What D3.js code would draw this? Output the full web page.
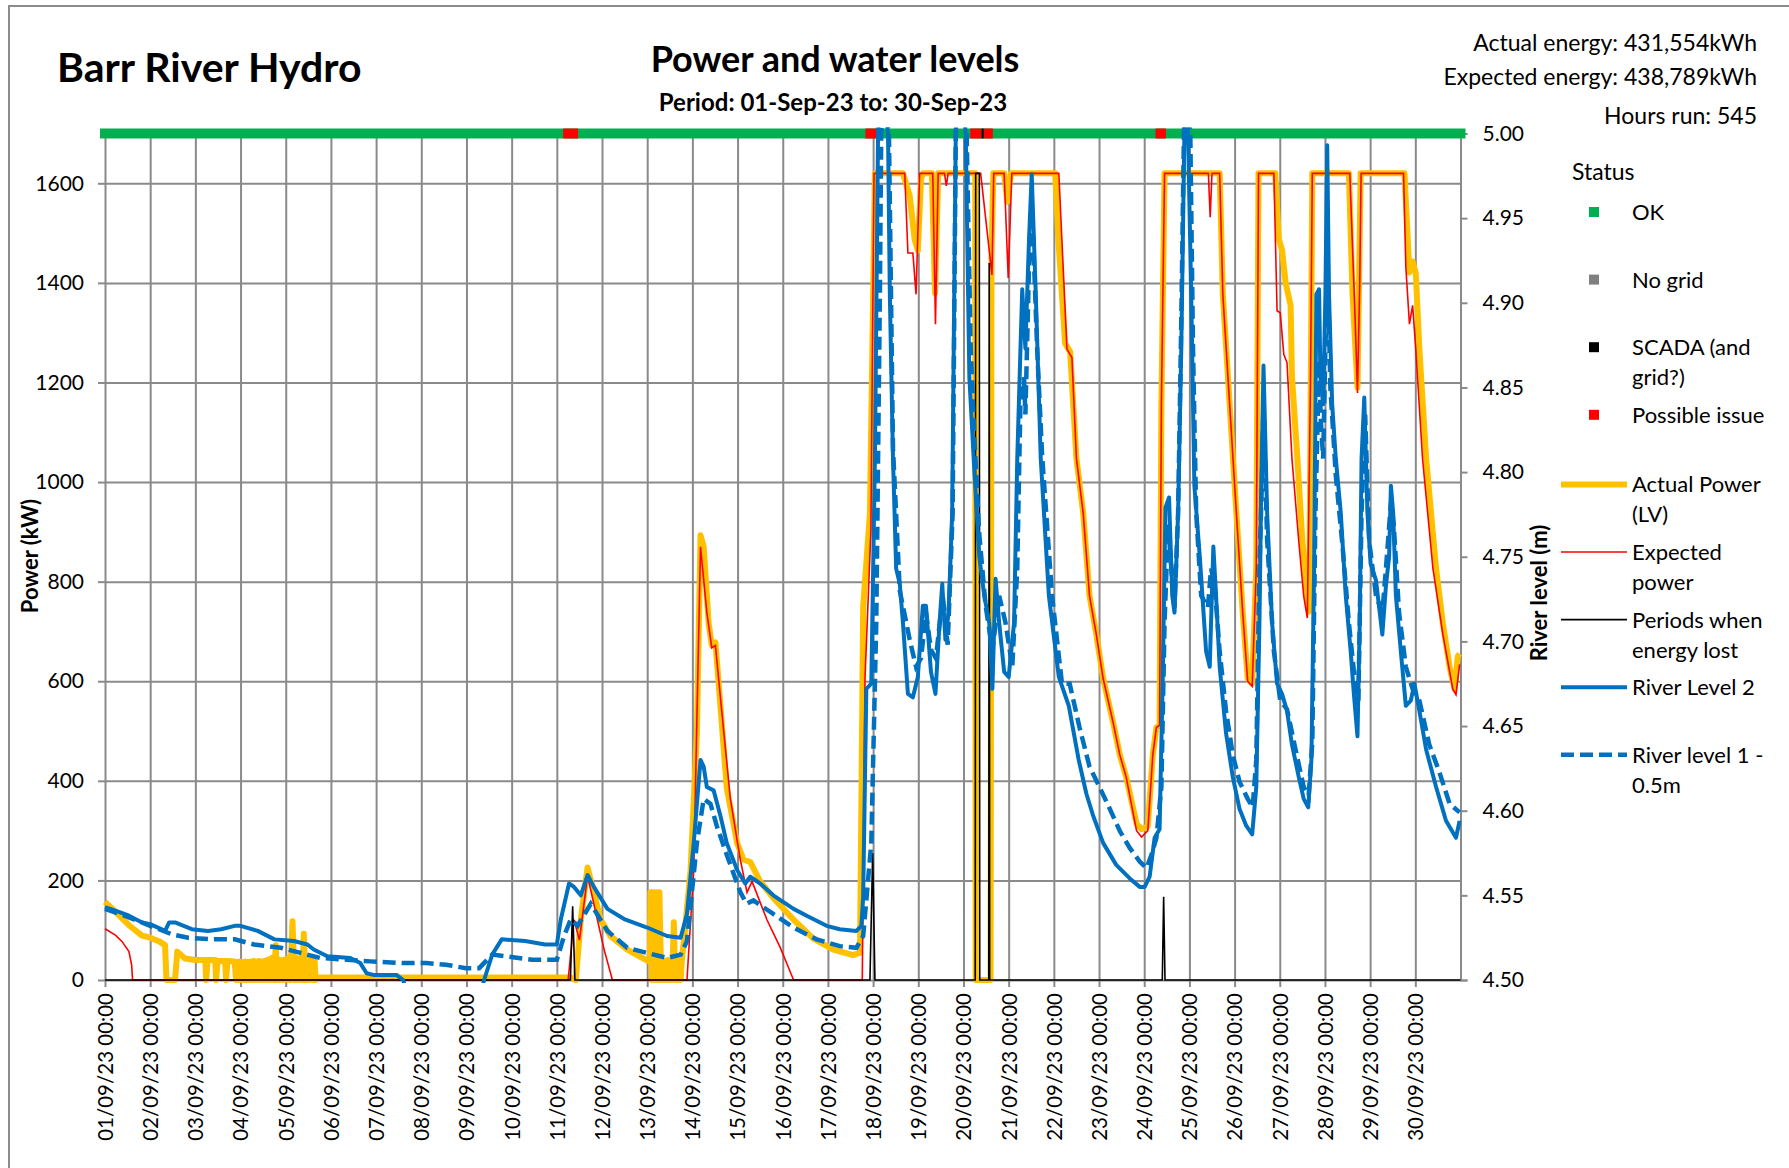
<!DOCTYPE html>
<html><head><meta charset="utf-8">
<script src="https://cdn.jsdelivr.net/npm/d3@7"></script>
<style>
body{margin:0;background:#fff}
text{font-family:Lato,"Open Sans",sans-serif;fill:#000}
</style>
</head><body>
<svg id="chart" width="1789" height="1168"></svg>
<script>
// ---------------- DATA (time = days since 01/09/23 00:00) ----------------
const xTickLabels = ["01/09/23 00:00","02/09/23 00:00","03/09/23 00:00","04/09/23 00:00","05/09/23 00:00","06/09/23 00:00","07/09/23 00:00","08/09/23 00:00","09/09/23 00:00","10/09/23 00:00","11/09/23 00:00","12/09/23 00:00","13/09/23 00:00","14/09/23 00:00","15/09/23 00:00","16/09/23 00:00","17/09/23 00:00","18/09/23 00:00","19/09/23 00:00","20/09/23 00:00","21/09/23 00:00","22/09/23 00:00","23/09/23 00:00","24/09/23 00:00","25/09/23 00:00","26/09/23 00:00","27/09/23 00:00","28/09/23 00:00","29/09/23 00:00","30/09/23 00:00"];
const powerTicks = [0,200,400,600,800,1000,1200,1400,1600];
const levelTicks = [4.50,4.55,4.60,4.65,4.70,4.75,4.80,4.85,4.90,4.95,5.00];

// Actual Power (LV), kW
const actualPower = [[0,157],[0.23,137],[0.53,110],[0.82,89],[1.0,85],[1.19,78],[1.33,70],[1.36,0],[1.55,0],[1.6,57],[1.77,43],[2.0,40],[2.22,40],[2.24,0],[2.27,40],[2.44,40],[2.46,0],[2.49,38],[2.66,38],[2.68,0],[2.71,38],[2.87,37],
[2.9,0],[2.93,36],[2.96,0],[2.99,37],[3.02,0],[3.05,36],[3.08,0],[3.11,37],[3.14,0],[3.17,36],[3.2,0],[3.23,37],[3.26,0],[3.29,38],[3.32,0],[3.35,37],[3.38,0],[3.41,38],[3.44,0],[3.47,37],[3.5,0],[3.53,38],[3.56,0],[3.59,40],[3.62,0],[3.65,42],[3.68,0],[3.71,45],[3.74,0],[3.78,70],[3.8,0],[3.83,42],[3.86,0],[3.89,40],[3.92,0],[3.95,40],[3.98,0],[4.01,42],[4.04,0],[4.07,45],[4.1,0],[4.15,118],[4.19,0],[4.22,45],[4.25,0],[4.28,40],[4.31,0],[4.34,45],[4.37,0],[4.4,93],[4.43,0],[4.46,45],[4.49,0],[4.52,40],[4.55,0],[4.58,42],[4.61,0],[4.64,38],[4.66,0],
[4.7,5],[10.3,5],[10.42,0],[10.53,121],[10.68,226],[10.82,176],[10.97,121],[11.19,88],[11.56,61],[12.0,39],[12.06,37],
[12.07,176],[12.1,0],[12.13,176],[12.17,0],[12.2,176],[12.24,0],[12.27,176],[12.31,0],[12.34,40],[12.37,0],[12.4,38],[12.43,0],[12.46,40],[12.49,0],[12.52,38],[12.55,0],[12.59,116],[12.62,0],[12.65,38],[12.68,0],[12.71,40],[12.74,0],[12.77,45],
[12.81,77],[12.96,220],[13.1,496],[13.18,893],[13.25,870],[13.36,716],[13.43,672],[13.51,678],[13.62,551],[13.76,386],[13.99,275],[14.13,242],[14.28,237],[14.5,198],[14.79,165],[15.24,121],[15.68,83],[16.12,61],[16.56,50],[16.71,55],[16.78,750],[16.93,937],[17.04,1620],[17.66,1620],[17.81,1575],[17.92,1487],[17.99,1465],[18.06,1608],[18.1,1620],[18.3,1620],[18.37,1380],[18.44,1620],[19.26,1620],[19.27,0],[19.6,0],[19.62,1450],[19.66,1620],[19.9,1620],[19.97,1563],[20.05,1620],[21.03,1620],[21.1,1487],[21.25,1278],[21.36,1262],[21.5,1047],[21.65,937],[21.79,771],[21.94,694],[22.09,606],[22.31,518],[22.46,452],[22.6,408],[22.83,314],[22.94,303],[23.08,309],[23.19,452],[23.27,507],[23.34,512],[23.38,1157],[23.45,1620],[24.67,1620],[24.74,1377],[24.89,1157],[25.04,937],[25.18,738],[25.29,606],[25.39,595],[25.48,827],[25.53,1620],[25.9,1620],[25.98,1488],[26.05,1466],[26.13,1400],[26.24,1355],[26.27,1212],[26.39,1047],[26.5,882],[26.61,760],[26.65,740],[26.72,1620],[27.53,1620],[27.61,1377],[27.72,1190],[27.79,1620],[28.76,1620],[28.87,1421],[28.94,1443],[29.01,1420],[29.09,1267],[29.24,1047],[29.46,826],[29.61,716],[29.76,628],[29.87,584],[29.94,650],[29.98,655]];

// Expected power, kW
const expectedPower = [[0,103],[0.23,90],[0.38,77],[0.53,57],[0.59,30],[0.61,0],[10.25,0],[10.38,121],[10.5,80],[10.68,209],[10.9,120],[11.05,60],[11.23,0],[12.88,0],[13.03,220],[13.18,870],[13.32,738],[13.43,667],[13.51,672],[13.65,540],[13.84,364],[14.06,242],[14.21,176],[14.32,198],[14.65,121],[14.94,66],[15.09,33],[15.24,0],[16.76,0],[16.82,606],[16.95,900],[17.02,1620],[17.7,1620],[17.77,1460],[17.88,1460],[17.95,1377],[18.03,1620],[18.32,1620],[18.38,1317],[18.44,1620],[18.58,1620],[18.62,1595],[18.66,1620],[19.38,1620],[19.63,1416],[19.67,1620],[19.9,1620],[19.99,1410],[20.07,1620],[21.11,1620],[21.29,1267],[21.4,1250],[21.5,1047],[21.65,937],[21.79,771],[21.94,694],[22.09,606],[22.31,518],[22.46,452],[22.6,408],[22.83,300],[22.94,287],[23.08,300],[23.19,452],[23.27,507],[23.34,512],[23.38,1157],[23.45,1620],[24.42,1620],[24.46,1532],[24.5,1620],[24.67,1620],[24.74,1377],[24.89,1157],[25.04,937],[25.18,738],[25.29,600],[25.39,590],[25.48,827],[25.53,1620],[25.87,1620],[25.94,1344],[26.01,1340],[26.09,1256],[26.16,1240],[26.27,1047],[26.42,882],[26.53,771],[26.61,727],[26.68,1200],[26.72,1620],[27.55,1620],[27.67,1322],[27.72,1179],[27.77,1400],[27.8,1620],[28.74,1620],[28.79,1432],[28.87,1317],[28.94,1355],[29.01,1267],[29.16,1047],[29.39,826],[29.61,694],[29.83,584],[29.9,573],[29.98,634]];

// Periods when energy lost, kW
const energyLost = [[0,0],[10.3,0],[10.35,148],[10.4,0],[16.93,0],[16.99,255],[17.04,0],[19.26,0],[19.27,1620],[19.35,1620],[19.36,0],[19.56,0],[19.57,1440],[19.58,0],[23.4,0],[23.43,167],[23.46,0],[30,0]];

// River Level 2, m
const riverLevel2 = [[0,4.543],[0.23,4.541],[0.53,4.538],[0.82,4.534],[1.0,4.533],[1.33,4.529],[1.42,4.534],[1.55,4.534],[1.92,4.530],[2.28,4.529],[2.57,4.530],[2.87,4.532],[3.0,4.532],[3.38,4.529],[3.75,4.524],[4.18,4.523],[4.48,4.521],[4.62,4.518],[4.92,4.514],[5.43,4.513],[5.65,4.510],[5.79,4.504],[5.94,4.503],[6.45,4.503],[6.6,4.500],[6.7,4.49],[8.3,4.49],[8.39,4.500],[8.57,4.515],[8.78,4.524],[9.3,4.523],[9.74,4.521],[10.0,4.521],[10.09,4.536],[10.27,4.557],[10.38,4.555],[10.53,4.550],[10.68,4.562],[10.82,4.555],[11.12,4.542],[11.49,4.536],[12.0,4.531],[12.44,4.526],[12.74,4.525],[12.88,4.539],[13.03,4.581],[13.18,4.630],[13.25,4.626],[13.32,4.614],[13.47,4.612],[13.62,4.597],[13.76,4.581],[13.99,4.565],[14.17,4.557],[14.28,4.561],[14.5,4.557],[14.79,4.550],[15.24,4.542],[15.53,4.538],[15.97,4.532],[16.26,4.530],[16.63,4.529],[16.74,4.532],[16.78,4.549],[16.85,4.672],[16.96,4.675],[17.04,4.808],[17.11,5.002],[17.2,5.03],[17.33,5.0],[17.37,4.905],[17.44,4.808],[17.51,4.743],[17.59,4.734],[17.66,4.711],[17.77,4.669],[17.88,4.667],[17.99,4.679],[18.1,4.721],[18.17,4.721],[18.28,4.682],[18.38,4.669],[18.47,4.711],[18.53,4.734],[18.6,4.701],[18.67,4.717],[18.75,4.776],[18.83,5.002],[18.95,5.03],[19.05,5.0],[19.13,4.856],[19.24,4.801],[19.35,4.750],[19.46,4.727],[19.57,4.711],[19.64,4.672],[19.71,4.737],[19.79,4.711],[19.9,4.682],[20.0,4.679],[20.12,4.711],[20.19,4.808],[20.3,4.908],[20.37,4.873],[20.45,4.937],[20.51,4.976],[20.6,4.905],[20.71,4.808],[20.89,4.727],[21.11,4.679],[21.33,4.662],[21.55,4.630],[21.72,4.610],[21.87,4.597],[22.09,4.581],[22.38,4.568],[22.68,4.560],[22.9,4.555],[23.01,4.555],[23.12,4.561],[23.23,4.584],[23.34,4.589],[23.41,4.678],[23.47,4.779],[23.55,4.785],[23.62,4.727],[23.67,4.717],[23.75,4.776],[23.82,4.873],[23.89,5.002],[23.93,5.02],[23.97,5.0],[24.04,4.905],[24.11,4.792],[24.23,4.750],[24.37,4.694],[24.45,4.685],[24.53,4.756],[24.59,4.727],[24.67,4.685],[24.81,4.646],[24.96,4.620],[25.11,4.601],[25.26,4.591],[25.39,4.586],[25.48,4.614],[25.55,4.711],[25.59,4.792],[25.64,4.863],[25.72,4.776],[25.83,4.711],[25.94,4.675],[26.05,4.669],[26.16,4.659],[26.27,4.639],[26.42,4.620],[26.53,4.607],[26.63,4.602],[26.7,4.630],[26.76,4.743],[26.81,4.905],[26.87,4.908],[26.9,4.856],[26.96,4.840],[27.01,4.905],[27.05,4.993],[27.09,4.905],[27.16,4.840],[27.24,4.808],[27.35,4.776],[27.46,4.727],[27.57,4.694],[27.64,4.669],[27.72,4.644],[27.77,4.711],[27.81,4.808],[27.87,4.844],[27.94,4.776],[28.01,4.746],[28.13,4.736],[28.27,4.704],[28.35,4.733],[28.42,4.750],[28.46,4.792],[28.51,4.776],[28.57,4.727],[28.68,4.694],[28.79,4.662],[28.9,4.665],[28.98,4.675],[29.09,4.659],[29.24,4.636],[29.46,4.614],[29.68,4.594],[29.9,4.584],[29.98,4.594]];

// River level 1 - 0.5m, m
const riverLevel1 = [[0,4.542],[0.53,4.537],[1.0,4.532],[1.48,4.527],[1.84,4.525],[2.36,4.524],[2.87,4.524],[3.3,4.521],[3.89,4.519],[4.33,4.516],[4.77,4.513],[5.35,4.512],[5.87,4.511],[6.6,4.510],[7.11,4.510],[7.55,4.509],[7.99,4.507],[8.28,4.507],[8.57,4.515],[8.87,4.514],[9.45,4.512],[10.0,4.512],[10.16,4.526],[10.31,4.536],[10.46,4.532],[10.75,4.545],[11.12,4.529],[11.56,4.519],[12.0,4.516],[12.44,4.513],[12.74,4.515],[12.88,4.523],[13.1,4.581],[13.25,4.607],[13.4,4.604],[13.54,4.591],[13.76,4.574],[14.06,4.552],[14.2,4.545],[14.35,4.547],[14.79,4.539],[15.24,4.531],[15.75,4.524],[16.26,4.520],[16.63,4.519],[16.78,4.526],[16.96,4.581],[17.07,4.711],[17.15,4.905],[17.18,5.002],[17.26,5.02],[17.35,5.0],[17.44,4.814],[17.59,4.730],[17.81,4.701],[17.95,4.685],[18.06,4.690],[18.17,4.717],[18.28,4.695],[18.39,4.690],[18.54,4.727],[18.65,4.698],[18.76,4.776],[18.83,5.002],[18.95,5.02],[19.07,5.0],[19.16,4.873],[19.24,4.821],[19.35,4.763],[19.49,4.721],[19.64,4.695],[19.79,4.727],[19.93,4.711],[20.08,4.685],[20.19,4.743],[20.26,4.840],[20.34,4.856],[20.37,4.834],[20.45,4.921],[20.52,4.954],[20.63,4.873],[20.74,4.810],[20.96,4.727],[21.18,4.675],[21.35,4.675],[21.57,4.649],[21.79,4.626],[22.01,4.614],[22.24,4.601],[22.46,4.588],[22.68,4.578],[22.9,4.570],[23.05,4.566],[23.16,4.574],[23.27,4.584],[23.38,4.614],[23.45,4.711],[23.53,4.769],[23.6,4.743],[23.67,4.720],[23.75,4.776],[23.82,4.889],[23.88,5.002],[23.95,5.02],[24.02,5.0],[24.08,4.873],[24.15,4.776],[24.26,4.727],[24.41,4.720],[24.48,4.743],[24.56,4.733],[24.67,4.694],[24.81,4.659],[24.96,4.633],[25.11,4.617],[25.29,4.607],[25.4,4.602],[25.48,4.630],[25.55,4.743],[25.6,4.790],[25.64,4.840],[25.72,4.760],[25.87,4.694],[26.01,4.665],[26.16,4.660],[26.35,4.636],[26.53,4.614],[26.64,4.609],[26.72,4.640],[26.79,4.776],[26.87,4.866],[26.91,4.830],[26.96,4.808],[27.01,4.873],[27.06,4.921],[27.12,4.850],[27.24,4.798],[27.39,4.756],[27.53,4.711],[27.68,4.672],[27.74,4.665],[27.81,4.776],[27.89,4.834],[27.98,4.759],[28.13,4.727],[28.27,4.717],[28.35,4.743],[28.46,4.782],[28.52,4.770],[28.64,4.717],[28.79,4.685],[28.94,4.672],[29.09,4.665],[29.31,4.639],[29.53,4.623],[29.76,4.604],[29.98,4.599]];

// Status periods [start, end, status]
const statusPeriods = [[0,10.14,"OK"],[10.14,10.47,"Possible issue"],[10.47,16.83,"OK"],[16.83,17.12,"Possible issue"],[17.12,19.15,"OK"],[19.15,19.4,"Possible issue"],[19.4,19.45,"SCADA (and grid?)"],[19.45,19.65,"Possible issue"],[19.65,23.25,"OK"],[23.25,23.48,"Possible issue"],[23.48,30,"OK"]];
const statusLevel = 1700;

const statusLegend = [["OK","#00B050"],["No grid","#808080"],["SCADA (and grid?)","#000000"],["Possible issue","#FF0000"]];
const statusLegendLines = [["OK"],["No grid"],["SCADA (and","grid?)"],["Possible issue"]];
const infoLines = ["Actual energy: 431,554kWh","Expected energy: 438,789kWh","Hours run: 545"];

// ---------------- CHART ----------------
const svg = d3.select("#chart");
const X0 = 105, X1 = 1460.5, Y0 = 980, Y1 = 133.5;
const x = d3.scaleLinear().domain([0,30]).range([X0,X1]);
const yP = d3.scaleLinear().domain([0,1700]).range([Y0,Y1]);
const yL = d3.scaleLinear().domain([4.5,5.0]).range([Y0,Y1]);
const GRID = "#8a8a8a";
const statusColor = {"OK":"#00B050","No grid":"#808080","SCADA (and grid?)":"#000000","Possible issue":"#FF0000"};

// outer border
svg.append("path").attr("d","M9,1168V6H1789").attr("fill","none").attr("stroke","#8c8c8c").attr("stroke-width",2);

// gridlines
const gH = svg.append("g").attr("transform",`translate(${X0},0)`)
  .call(d3.axisLeft(yP).tickValues(powerTicks).tickSize(-(X1-X0)).tickFormat(""));
gH.select(".domain").remove();
gH.selectAll("line").attr("stroke",GRID).attr("stroke-width",2);
const gV = svg.append("g").attr("transform",`translate(0,${Y0})`)
  .call(d3.axisBottom(x).tickValues(d3.range(0,31)).tickSize(-(Y0-Y1)).tickFormat(""));
gV.select(".domain").remove();
gV.selectAll("line").attr("stroke",GRID).attr("stroke-width",2);

// left axis ticks + labels
const gL = svg.append("g").attr("transform",`translate(${X0},0)`)
  .call(d3.axisLeft(yP).tickValues(powerTicks).tickSize(7).tickPadding(14).tickFormat(d3.format("d")));
gL.select(".domain").remove();
gL.selectAll("line").attr("stroke",GRID).attr("stroke-width",2);
gL.selectAll("text").attr("font-size",21).attr("font-family","Lato").attr("fill","#000");

// bottom axis ticks + labels
const gB = svg.append("g").attr("transform",`translate(0,${Y0})`)
  .call(d3.axisBottom(x).tickValues(d3.range(0,30)).tickSize(7).tickFormat(d=>xTickLabels[d]));
gB.select(".domain").remove();
gB.selectAll("line").attr("stroke",GRID).attr("stroke-width",2);
gB.selectAll("text").attr("font-size",20.5).attr("font-family","Lato").attr("fill","#000")
  .attr("text-anchor","end").attr("transform","rotate(-90)").attr("x",-13).attr("y",0).attr("dy","0.36em");

// right axis
const gR = svg.append("g").attr("transform",`translate(${X1},0)`)
  .call(d3.axisRight(yL).tickValues(levelTicks).tickSize(7).tickPadding(15).tickFormat(d3.format(".2f")));
gR.select(".domain").attr("stroke",GRID).attr("stroke-width",2);
gR.selectAll("line").attr("stroke",GRID).attr("stroke-width",2);
gR.selectAll("text").attr("font-size",21).attr("font-family","Lato").attr("fill","#000");

// clip
svg.append("clipPath").attr("id","plotclip").append("rect")
  .attr("x",X0-10).attr("y",Y1-6).attr("width",X1-X0+20).attr("height",Y0-Y1+9);
const plot = svg.append("g").attr("clip-path","url(#plotclip)");

// status bar
plot.append("line").attr("x1",x(0)).attr("x2",x(30)).attr("y1",yP(statusLevel)).attr("y2",yP(statusLevel))
  .attr("stroke",statusColor["OK"]).attr("stroke-width",10).attr("stroke-linecap","square");
plot.selectAll(".st").data(statusPeriods.filter(d=>d[2]!=="OK")).join("line")
  .attr("x1",d=>x(d[0])).attr("x2",d=>x(d[1])).attr("y1",yP(statusLevel)).attr("y2",yP(statusLevel))
  .attr("stroke",d=>statusColor[d[2]]).attr("stroke-width",10);

const lineP = d3.line().x(d=>x(d[0])).y(d=>yP(d[1]));
const lineL = d3.line().x(d=>x(d[0])).y(d=>yL(d[1]));

plot.append("path").datum(actualPower).attr("d",lineP).attr("fill","none").attr("stroke","#FFC000").attr("stroke-width",6).attr("stroke-linejoin","round");
plot.append("path").datum(expectedPower).attr("d",lineP).attr("fill","none").attr("stroke","#FF0000").attr("stroke-width",1.6);
plot.append("path").datum(energyLost).attr("d",lineP).attr("fill","none").attr("stroke","#000").attr("stroke-width",1.6);
plot.append("path").datum(riverLevel2).attr("d",lineL).attr("fill","none").attr("stroke","#0070C0").attr("stroke-width",4).attr("stroke-linejoin","round");
plot.append("path").datum(riverLevel1).attr("d",lineL).attr("fill","none").attr("stroke","#0070C0").attr("stroke-width",4.5).attr("stroke-dasharray","13,6");

// titles
svg.append("text").attr("x",57).attr("y",82).attr("font-size",41).attr("font-weight","bold").text("Barr River Hydro");
svg.append("text").attr("x",835).attr("y",72).attr("text-anchor","middle").attr("font-size",36).attr("font-weight","bold").text("Power and water levels");
svg.append("text").attr("x",833).attr("y",111).attr("text-anchor","middle").attr("font-size",24).attr("font-weight","bold").text("Period: 01-Sep-23 to: 30-Sep-23");
svg.selectAll(".info").data(infoLines).join("text").attr("class","info")
  .attr("x",1757).attr("y",(d,i)=>[51,85,124][i]).attr("text-anchor","end").attr("font-size",23).text(d=>d);

// axis titles
svg.append("text").attr("transform","translate(38,556) rotate(-90)").attr("text-anchor","middle").attr("font-size",22).attr("font-weight","bold").text("Power (kW)");
svg.append("text").attr("transform","translate(1547,593) rotate(-90)").attr("text-anchor","middle").attr("font-size",22).attr("font-weight","bold").text("River level (m)");

// legend
const LX = 1632, LY0 = 212, LSTEP = 67.6;
svg.append("text").attr("x",1572).attr("y",180).attr("font-size",23).text("Status");
statusLegend.forEach((s,i)=>{
  const cy = LY0 + i*LSTEP;
  svg.append("rect").attr("x",1589).attr("y",cy-5).attr("width",10).attr("height",10).attr("fill",s[1]);
  statusLegendLines[i].forEach((t,j)=>svg.append("text").attr("x",LX).attr("y",cy+8+j*30).attr("font-size",22).text(t));
});
const lineLegend = [
  {lines:["Actual Power","(LV)"],color:"#FFC000",w:6,dash:null},
  {lines:["Expected","power"],color:"#FF0000",w:1.6,dash:null},
  {lines:["Periods when","energy lost"],color:"#000",w:1.6,dash:null},
  {lines:["River Level 2"],color:"#0070C0",w:4,dash:null},
  {lines:["River level 1 -","0.5m"],color:"#0070C0",w:4.5,dash:"13,6"}];
lineLegend.forEach((s,i)=>{
  const cy = LY0 + (i+4)*LSTEP + 2;
  const l = svg.append("line").attr("x1",1561).attr("x2",1627).attr("y1",cy).attr("y2",cy).attr("stroke",s.color).attr("stroke-width",s.w);
  if(s.dash) l.attr("stroke-dasharray",s.dash);
  s.lines.forEach((t,j)=>svg.append("text").attr("x",LX).attr("y",cy+8+j*30).attr("font-size",22).text(t));
});
</script>
</body></html>
